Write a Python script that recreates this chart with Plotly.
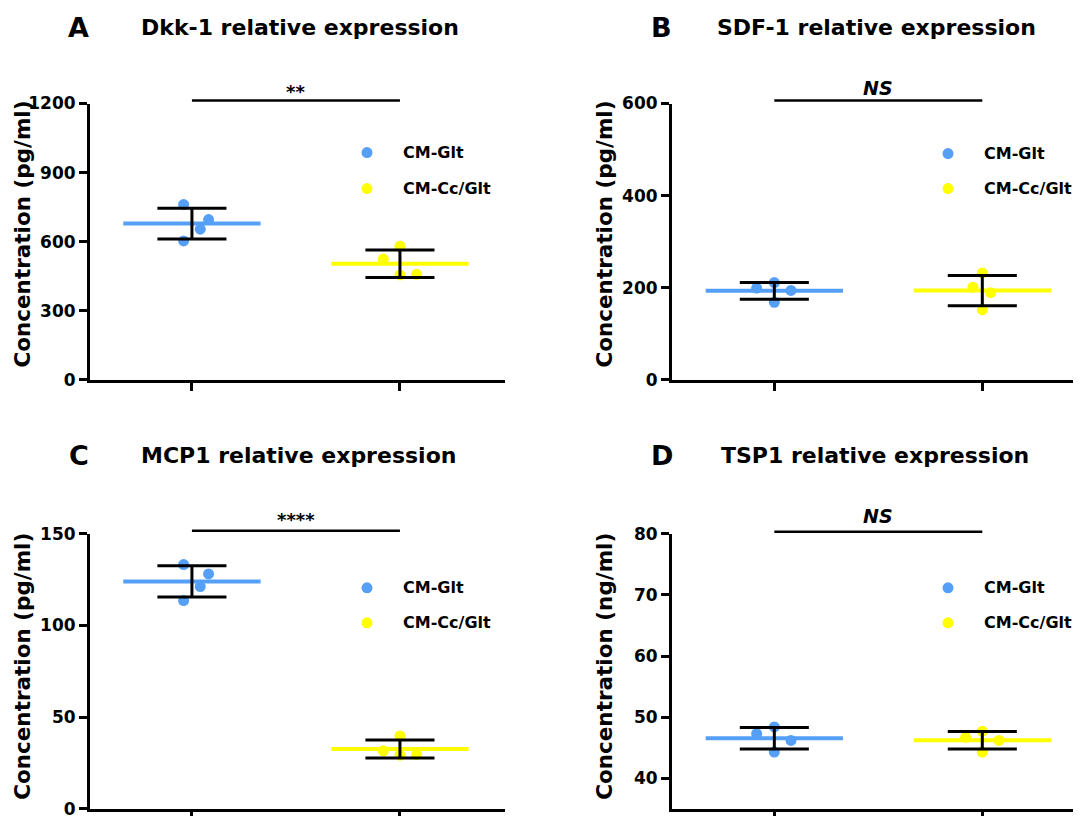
import numpy as np
import plotly.graph_objects as go

# ---------------- data ----------------
GROUPS = ["CM-Glt", "CM-Cc/Glt"]
PANEL_LETTERS = ["A", "B", "C", "D"]
TITLES = ["Dkk-1 relative expression", "SDF-1 relative expression",
          "MCP1 relative expression", "TSP1 relative expression"]
Y_TITLES = ["Concentration (pg/ml)", "Concentration (pg/ml)",
            "Concentration (pg/ml)", "Concentration (ng/ml)"]
SIGNIF = ["**", "<i>NS</i>", "****", "<i>NS</i>"]

dkk1_glt = [761, 696, 654, 603]
dkk1_ccglt = [580, 524, 455, 458]
sdf1_glt = [199, 211, 194, 168]
sdf1_ccglt = [232, 201, 189, 152]
mcp1_glt = [133.2, 128.1, 121.2, 113.6]
mcp1_ccglt = [39.8, 31.7, 29.3, 29.7]
tsp1_glt = [47.3, 48.4, 46.2, 44.3]
tsp1_ccglt = [46.7, 47.7, 46.2, 44.3]

Y_TICKS = [[0, 300, 600, 900, 1200], [0, 200, 400, 600],
           [0, 50, 100, 150], [40, 50, 60, 70, 80]]
Y_RANGES = [[0, 1200], [0, 600], [0, 150], [35, 80]]

SERIES = [(dkk1_glt, dkk1_ccglt), (sdf1_glt, sdf1_ccglt),
          (mcp1_glt, mcp1_ccglt), (tsp1_glt, tsp1_ccglt)]

# ---------------- style ----------------
W, H = 1081, 816
COLORS = ["#559FF7", "#FFFF00"]
FONT = "DejaVu Sans"
# horizontal spread of the dots (scatter dot plot layout)
JITTER = [
    ([-0.04, 0.08, 0.04, -0.04], [0.0, -0.08, 0.0, 0.08]),
    ([-0.085, 0.0, 0.08, 0.0], [0.0, -0.045, 0.04, 0.0]),
    ([-0.04, 0.08, 0.04, -0.04], [0.0, -0.08, 0.0, 0.08]),
    ([-0.085, 0.0, 0.08, 0.0], [-0.08, 0.0, 0.08, 0.0]),
]
# panel geometry (target pixel positions in the final picture)
PANELS = [
    dict(xd=(89, 504), yd=(103, 379), xr=(-0.49, 1.505), letter=(77, 27), title=138,
         sig_line=100, sig_text=91, leg=(366, 152, 188), ytitle=(22, 234)),
    dict(xd=(671, 1088), yd=(103, 379), xr=(-0.492, 1.513), letter=(660, 27), title=714,
         sig_line=100, sig_text=87, leg=(947, 153, 188), ytitle=(604, 234)),
    dict(xd=(89, 504), yd=(533, 808), xr=(-0.49, 1.505), letter=(78, 455), title=138,
         sig_line=530, sig_text=519, leg=(366, 587, 622), ytitle=(22, 666)),
    dict(xd=(671, 1088), yd=(533, 808), xr=(-0.492, 1.513), letter=(661, 455), title=718,
         sig_line=531, sig_text=515, leg=(947, 587, 622), ytitle=(604, 666)),
]
MEAN_HW = 0.33
CAP_HW = 0.166
# page offset compensation
OFF_X, OFF_Y, SC_Y = 7.0, 17.5, 0.975


def fx(p):
    return min(1.0, (p - OFF_X) / W)


def fy(p):
    return 1 - ((p - OFF_Y) / SC_Y) / H


fig = go.Figure()
shapes = []
annotations = []

for i, (series, jit, pan) in enumerate(zip(SERIES, JITTER, PANELS)):
    n = "" if i == 0 else str(i + 1)
    xa, ya = "x" + n, "y" + n
    for g, (vals, jj) in enumerate(zip(series, jit)):
        vals = np.array(vals, dtype=float)
        m = vals.mean()
        sd = vals.std(ddof=1)
        fig.add_trace(go.Scatter(
            x=[g + j for j in jj], y=vals, mode="markers",
            marker=dict(size=11, color=COLORS[g], line=dict(width=0)),
            xaxis=xa, yaxis=ya, showlegend=False, cliponaxis=False))
        fig.add_trace(go.Scatter(
            x=[g - MEAN_HW, g + MEAN_HW], y=[m, m], mode="lines",
            line=dict(color=COLORS[g], width=4),
            xaxis=xa, yaxis=ya, showlegend=False))
        fig.add_trace(go.Scatter(
            x=[g - CAP_HW, g + CAP_HW, None, g, g, None, g - CAP_HW, g + CAP_HW],
            y=[m + sd, m + sd, None, m + sd, m - sd, None, m - sd, m - sd],
            mode="lines", line=dict(color="black", width=3),
            xaxis=xa, yaxis=ya, showlegend=False))

    axis_common = dict(showline=True, linewidth=3, linecolor="black", ticks="outside",
                       tickwidth=3, tickcolor="black", ticklen=8, showgrid=False,
                       zeroline=False, fixedrange=True)
    fig.update_layout(**{
        "xaxis" + n: dict(domain=[fx(pan["xd"][0]), fx(pan["xd"][1])], range=list(pan["xr"]),
                          tickvals=[0, 1], ticktext=["", ""], anchor=ya, **axis_common),
        "yaxis" + n: dict(domain=[fy(pan["yd"][1]), fy(pan["yd"][0])], range=Y_RANGES[i],
                          tickvals=Y_TICKS[i], anchor=xa,
                          tickfont=dict(family=FONT, size=17, color="black", weight="bold"),
                          **axis_common),
    })

    # y-axis title
    annotations.append(dict(text=Y_TITLES[i], xref="paper", yref="paper",
                            x=fx(pan["ytitle"][0]), y=fy(pan["ytitle"][1]), textangle=-90,
                            showarrow=False, xanchor="center", yanchor="middle",
                            font=dict(family=FONT, size=21.5, color="black", weight="bold")))
    # significance bar
    shapes.append(dict(type="line", xref=xa, yref="paper", x0=0, x1=1,
                       y0=fy(pan["sig_line"]), y1=fy(pan["sig_line"]),
                       line=dict(color="black", width=2.5)))
    annotations.append(dict(text=SIGNIF[i], xref=xa, yref="paper", x=0.5, y=fy(pan["sig_text"]),
                            showarrow=False, xanchor="center", yanchor="middle",
                            font=dict(family=FONT, size=19 if "NS" in SIGNIF[i] else 18,
                                      color="black", weight="bold")))
    # panel letter & title
    annotations.append(dict(text=PANEL_LETTERS[i], xref="paper", yref="paper",
                            x=fx(pan["letter"][0]), y=fy(pan["letter"][1]), showarrow=False,
                            xanchor="center", yanchor="middle",
                            font=dict(family=FONT, size=27, color="black", weight="bold")))
    annotations.append(dict(text=TITLES[i], xref="paper", yref="paper",
                            x=fx(pan["title"]), y=fy(pan["letter"][1]), showarrow=False,
                            xanchor="left", yanchor="middle",
                            font=dict(family=FONT, size=22, color="black", weight="bold")))
    # legend
    lx, ly1, ly2 = pan["leg"]
    for g, ly in enumerate([ly1, ly2]):
        shapes.append(dict(type="circle", xref="paper", yref="paper",
                           xsizemode="pixel", ysizemode="pixel",
                           xanchor=fx(lx), yanchor=fy(ly), x0=-5.5, x1=5.5, y0=-5.5, y1=5.5,
                           fillcolor=COLORS[g], line=dict(width=0)))
        annotations.append(dict(text=GROUPS[g], xref="paper", yref="paper",
                                x=fx(lx + 34), y=fy(ly), showarrow=False,
                                xanchor="left", yanchor="middle",
                                font=dict(family=FONT, size=16, color="black", weight="bold")))

fig.update_layout(width=W, height=H, margin=dict(l=0, r=0, t=0, b=0),
                  plot_bgcolor="white", paper_bgcolor="white",
                  shapes=shapes, annotations=annotations, showlegend=False)

fig.write_html("out.html")
